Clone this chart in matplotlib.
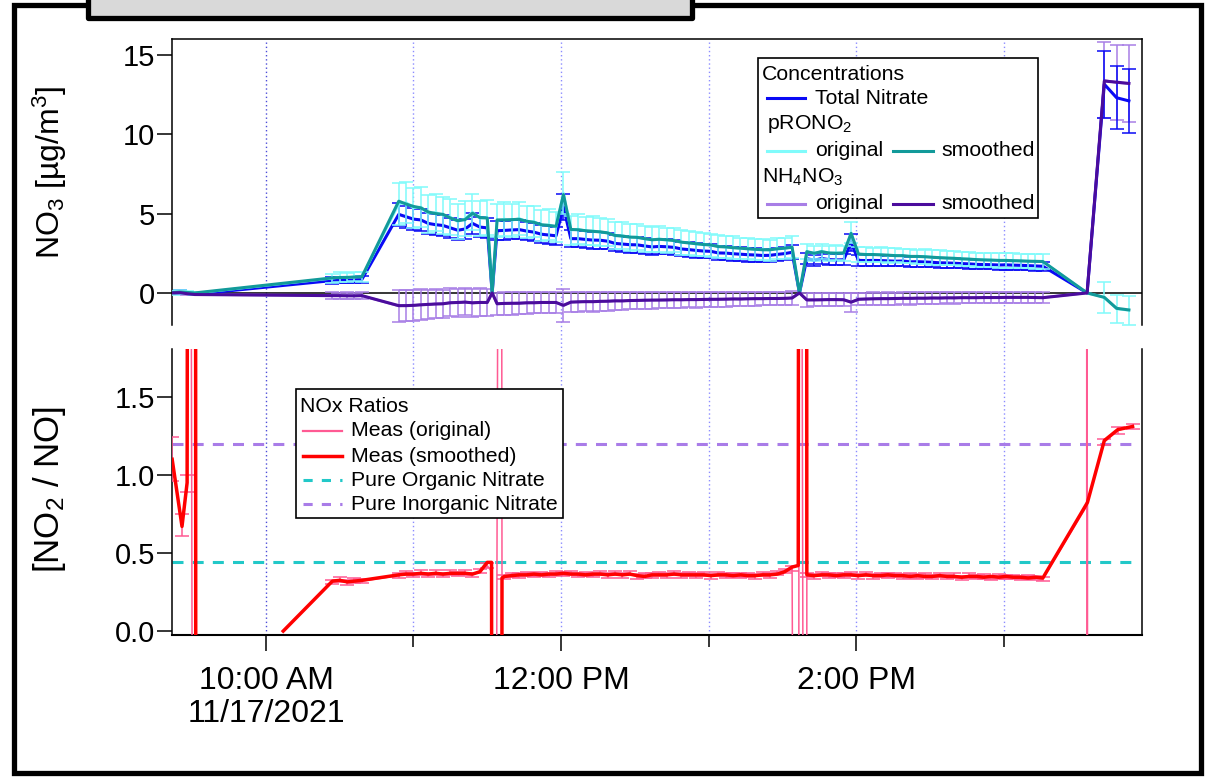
import numpy as np
import pandas as pd
import matplotlib
matplotlib.use("Agg")
import matplotlib.pyplot as plt
import matplotlib.dates as mdates
from matplotlib.lines import Line2D
from matplotlib.patches import Rectangle
from matplotlib.transforms import blended_transform_factory

plt.rcParams["font.family"] = ["Liberation Sans", "DejaVu Sans"]
plt.rcParams["mathtext.fontset"] = "custom"
plt.rcParams["mathtext.rm"] = "Liberation Sans"
plt.rcParams["mathtext.it"] = "Liberation Sans:italic"
plt.rcParams["mathtext.default"] = "regular"

DAY = "2021-11-17 "


def stamps(labels):
    return pd.to_datetime([DAY + s for s in labels]).values


def run(first, last):
    # regular 3-minute averaging periods
    return pd.date_range(DAY + first, DAY + last, freq="3min").values


# ---------------- nitrate concentrations (ug/m3) ----------------
conc_time = pd.DatetimeIndex(np.concatenate([
    stamps(["09:22", "09:25", "09:28", "09:31"]),
    run("10:27", "10:39"),
    run("10:54", "11:30"),
    stamps(["11:32"]),
    run("11:34", "13:34"),
    stamps(["13:37"]),
    run("13:40", "15:16"),
    stamps(["15:34", "15:41", "15:46", "15:51"]),
]))

total_no3 = ([0.03, 0.1, 0.0, -0.08]
             + [0.78, 0.8, 0.8, 0.82, 0.85]
             + [4.95, 4.8, 4.65, 4.6, 4.38, 4.3, 4.25, 4.1, 3.95, 4.03, 4.38, 4.15, 4.1]
             + [0.0]
             + [3.92, 3.94, 3.97, 3.99, 3.9, 3.83, 3.7, 3.65, 3.6, 5.42,
                3.42, 3.42, 3.37, 3.33, 3.32, 3.26, 3.12, 3.08, 3.04, 3.03,
                2.96, 2.9, 2.93, 2.91, 2.87, 2.77, 2.73, 2.68, 2.64, 2.62,
                2.52, 2.51, 2.47, 2.44, 2.41, 2.39, 2.36, 2.37, 2.43, 2.48, 2.56]
             + [0.0]
             + [2.16, 2.06, 2.17, 2.1, 2.08, 2.09, 3.17, 2.05, 2.04, 2.05,
                2.04, 2.02, 2.0, 2.01, 1.96, 1.97, 1.95, 1.93, 1.9, 1.89,
                1.87, 1.85, 1.83, 1.8, 1.79, 1.78, 1.76, 1.77, 1.75, 1.74,
                1.72, 1.7, 1.68]
             + [0.0, 13.15, 12.3, 12.1])

total_err = ([0.08, 0.08, 0.08, 0.08]
             + [0.2, 0.2, 0.2, 0.2, 0.2]
             + [0.72, 0.7, 0.7, 0.68, 0.66, 0.66, 0.65, 0.64, 0.62, 0.63, 0.66, 0.64, 0.63]
             + [0.0]
             + [0.6, 0.6, 0.6, 0.6, 0.59, 0.58, 0.57, 0.56, 0.56, 0.82,
                0.54, 0.54, 0.53, 0.53, 0.52, 0.52, 0.5, 0.5, 0.5, 0.49,
                0.48, 0.48, 0.48, 0.47, 0.47, 0.46, 0.46, 0.45, 0.45, 0.45,
                0.44, 0.44, 0.44, 0.43, 0.43, 0.43, 0.42, 0.42, 0.43, 0.43, 0.44]
             + [0.0]
             + [0.36, 0.35, 0.36, 0.35, 0.35, 0.35, 0.55, 0.34, 0.34, 0.34,
                0.34, 0.33, 0.33, 0.33, 0.33, 0.32, 0.32, 0.32, 0.32, 0.31,
                0.31, 0.31, 0.31, 0.3, 0.3, 0.3, 0.3, 0.3, 0.29, 0.29,
                0.29, 0.29, 0.29]
             + [0.0, 2.1, 2.0, 2.0])

prono2_orig = ([0.0, 0.08, 0.02, -0.02]
               + [0.92, 0.99, 0.96, 1.03, 1.0]
               + [5.6, 5.7, 5.35, 5.42, 5.0, 5.08, 4.9, 4.78, 4.5, 4.68, 5.1, 4.7, 4.76]
               + [0.0]
               + [4.55, 4.66, 4.58, 4.7, 4.48, 4.5, 4.26, 4.3, 4.15, 6.3,
                  3.95, 4.03, 3.9, 3.92, 3.82, 3.8, 3.6, 3.62, 3.5, 3.53,
                  3.4, 3.37, 3.4, 3.32, 3.32, 3.18, 3.17, 3.08, 3.07, 3.0,
                  2.94, 2.88, 2.86, 2.8, 2.8, 2.73, 2.74, 2.7, 2.8, 2.8, 2.9]
               + [0.0]
               + [2.62, 2.47, 2.63, 2.5, 2.53, 2.5, 3.8, 2.43, 2.44, 2.4,
                  2.42, 2.36, 2.37, 2.33, 2.32, 2.28, 2.3, 2.24, 2.23, 2.19,
                  2.19, 2.14, 2.14, 2.09, 2.09, 2.06, 2.06, 2.04, 2.04, 2.01,
                  2.01, 1.98, 1.98]
               + [0.0, -0.28, -1.0, -1.1])

prono2_smooth = ([0.02, 0.06, 0.03, 0.0]
                 + [0.95, 0.97, 0.98, 1.0, 1.02]
                 + [5.78, 5.6, 5.45, 5.36, 5.1, 5.0, 4.95, 4.72, 4.55, 4.62, 5.02, 4.75, 4.72]
                 + [0.0]
                 + [4.6, 4.6, 4.62, 4.64, 4.52, 4.45, 4.3, 4.25, 4.2, 6.2,
                    4.0, 3.98, 3.92, 3.88, 3.85, 3.78, 3.62, 3.58, 3.52, 3.5,
                    3.42, 3.35, 3.38, 3.35, 3.3, 3.2, 3.15, 3.1, 3.05, 3.02,
                    2.92, 2.9, 2.85, 2.82, 2.78, 2.75, 2.72, 2.72, 2.78, 2.82, 2.88]
                 + [0.0]
                 + [2.6, 2.5, 2.6, 2.52, 2.5, 2.52, 3.75, 2.45, 2.42, 2.42,
                    2.4, 2.38, 2.35, 2.35, 2.3, 2.3, 2.28, 2.25, 2.22, 2.2,
                    2.18, 2.15, 2.13, 2.1, 2.08, 2.07, 2.05, 2.05, 2.03, 2.02,
                    2.0, 1.99, 1.98]
                 + [0.0, -0.28, -0.97, -1.07])

prono2_err = ([0.1, 0.1, 0.1, 0.1]
              + [0.3, 0.3, 0.3, 0.3, 0.3]
              + [1.3, 1.28, 1.25, 1.24, 1.2, 1.18, 1.17, 1.14, 1.12, 1.12, 1.16, 1.12, 1.1]
              + [0.0]
              + [1.05, 1.05, 1.04, 1.04, 1.02, 1.0, 0.98, 0.97, 0.96, 1.35,
                 0.92, 0.92, 0.9, 0.9, 0.88, 0.87, 0.85, 0.84, 0.83, 0.82,
                 0.8, 0.79, 0.79, 0.78, 0.77, 0.76, 0.75, 0.74, 0.73, 0.72,
                 0.71, 0.7, 0.7, 0.69, 0.68, 0.67, 0.66, 0.66, 0.67, 0.67, 0.68]
              + [0.0]
              + [0.48, 0.47, 0.48, 0.47, 0.47, 0.47, 0.65, 0.46, 0.46, 0.46,
                 0.46, 0.46, 0.45, 0.45, 0.45, 0.45, 0.45, 0.45, 0.45, 0.45,
                 0.45, 0.45, 0.45, 0.45, 0.45, 0.45, 0.46, 0.46, 0.46, 0.46,
                 0.47, 0.47, 0.48]
              + [0.0, 1.0, 0.9, 0.9])

nh4no3_orig = ([0.0, 0.03, -0.06, -0.1]
               + [-0.16, -0.18, -0.17, -0.19, -0.17]
               + [-0.82, -0.78, -0.8, -0.73, -0.74, -0.68, -0.7, -0.6, -0.62, -0.56, -0.64, -0.58, -0.61]
               + [0.0]
               + [-0.7, -0.65, -0.66, -0.63, -0.63, -0.6, -0.61, -0.59, -0.61, -0.8,
                  -0.57, -0.57, -0.54, -0.56, -0.52, -0.53, -0.49, -0.51, -0.47, -0.48,
                  -0.45, -0.46, -0.44, -0.45, -0.42, -0.44, -0.41, -0.43, -0.4, -0.41,
                  -0.39, -0.4, -0.37, -0.39, -0.36, -0.37, -0.35, -0.36, -0.34, -0.35, -0.31]
               + [0.0]
               + [-0.45, -0.43, -0.44, -0.41, -0.43, -0.42, -0.6, -0.39, -0.39, -0.36,
                  -0.37, -0.35, -0.36, -0.33, -0.35, -0.32, -0.34, -0.31, -0.33, -0.3,
                  -0.32, -0.29, -0.31, -0.29, -0.3, -0.28, -0.3, -0.27, -0.29, -0.28,
                  -0.27, -0.3, -0.29]
               + [0.0, 13.4, 13.25, 13.2])

nh4no3_smooth = ([0.0, 0.02, -0.05, -0.1]
                 + [-0.17, -0.17, -0.18, -0.18, -0.17]
                 + [-0.8, -0.8, -0.78, -0.75, -0.72, -0.7, -0.68, -0.62, -0.6, -0.58, -0.62, -0.6, -0.6]
                 + [0.0]
                 + [-0.68, -0.66, -0.65, -0.65, -0.62, -0.62, -0.6, -0.6, -0.6, -0.78,
                    -0.58, -0.56, -0.55, -0.55, -0.53, -0.52, -0.5, -0.5, -0.48, -0.47,
                    -0.46, -0.45, -0.45, -0.44, -0.43, -0.43, -0.42, -0.42, -0.41, -0.4,
                    -0.4, -0.39, -0.38, -0.38, -0.37, -0.36, -0.36, -0.35, -0.35, -0.34, -0.32]
                 + [0.0]
                 + [-0.44, -0.44, -0.43, -0.42, -0.42, -0.43, -0.58, -0.4, -0.38, -0.37,
                    -0.36, -0.36, -0.35, -0.34, -0.34, -0.33, -0.33, -0.32, -0.32, -0.31,
                    -0.31, -0.3, -0.3, -0.3, -0.29, -0.29, -0.29, -0.28, -0.28, -0.28,
                    -0.28, -0.29, -0.3]
                 + [0.0, 13.35, 13.28, 13.2])

nh4no3_err = ([0.05, 0.05, 0.05, 0.05]
              + [0.2, 0.2, 0.2, 0.2, 0.2]
              + [1.0, 0.98, 0.97, 0.95, 0.93, 0.92, 0.9, 0.88, 0.87, 0.86, 0.88, 0.86, 0.85]
              + [0.0]
              + [0.72, 0.71, 0.7, 0.7, 0.68, 0.68, 0.66, 0.66, 0.65, 1.05,
                 0.63, 0.62, 0.61, 0.61, 0.6, 0.59, 0.58, 0.57, 0.56, 0.55,
                 0.54, 0.53, 0.53, 0.52, 0.51, 0.5, 0.5, 0.49, 0.48, 0.48,
                 0.47, 0.46, 0.46, 0.45, 0.45, 0.44, 0.44, 0.43, 0.43, 0.42, 0.42]
              + [0.0]
              + [0.42, 0.42, 0.41, 0.41, 0.41, 0.41, 0.62, 0.4, 0.4, 0.39,
                 0.39, 0.39, 0.38, 0.38, 0.38, 0.37, 0.37, 0.37, 0.36, 0.36,
                 0.36, 0.36, 0.35, 0.35, 0.35, 0.35, 0.35, 0.34, 0.34, 0.34,
                 0.34, 0.34, 0.35]
              + [0.0, 2.4, 2.35, 2.4])

# ---------------- NO2+/NO+ ratio ----------------
ratio_time = pd.DatetimeIndex(np.concatenate([
    stamps(["09:21:50", "09:25:50", "09:27:55", "09:28:35", "09:31:15", "09:31:35", "09:50:00"]),
    stamps(["10:07"]),
    run("10:27", "10:39"),
    run("10:54", "11:30"),
    stamps(["11:31:45", "11:32:15", "11:35:30", "11:36:00"]),
    run("11:37", "13:34"),
    stamps(["13:36:30", "13:37:00", "13:39:45"]),
    run("13:40", "15:16"),
    stamps(["15:33:50", "15:33:55", "15:34:05", "15:34:10",
            "15:41:00", "15:46:30", "15:52:30"]),
]))

nan = np.nan
ratio_orig = ([1.10, 0.68, 0.945, 9.0, -9.0, nan, nan]
              + [0.0]
              + [0.315, 0.33, 0.31, 0.325, 0.32]
              + [0.355, 0.37, 0.36, 0.375, 0.36, 0.375, 0.36, 0.375, 0.365, 0.375, 0.36, 0.385, 0.42]
              + [0.38, -9.0, 9.0, 0.34]
              + [0.345, 0.36, 0.355, 0.365, 0.36, 0.365, 0.36, 0.37, 0.365, 0.37,
                 0.36, 0.365, 0.36, 0.37, 0.355, 0.37, 0.355, 0.37, 0.35, 0.355,
                 0.355, 0.365, 0.355, 0.37, 0.355, 0.365, 0.355, 0.365, 0.35, 0.365,
                 0.355, 0.36, 0.355, 0.36, 0.35, 0.365, 0.355, 0.37, 0.385, 0.40]
              + [-9.0, 9.0, -9.0]
              + [0.36, 0.35, 0.365, 0.355, 0.36, 0.355, 0.365, 0.35, 0.365, 0.35,
                 0.36, 0.355, 0.36, 0.35, 0.355, 0.35, 0.355, 0.345, 0.36, 0.345,
                 0.355, 0.34, 0.355, 0.345, 0.35, 0.34, 0.35, 0.345, 0.345, 0.34,
                 0.345, 0.34, 0.335]
              + [0.8, 9.0, -9.0, 0.83, 1.21, 1.285, 1.31])

ratio_smooth = ([1.10, 0.67, 0.95, 9.0, 9.0, -9.0, nan]
                + [0.0]
                + [0.32, 0.325, 0.315, 0.32, 0.325]
                + [0.36, 0.365, 0.365, 0.37, 0.365, 0.37, 0.365, 0.37, 0.37, 0.37, 0.365, 0.38, 0.44]
                + [0.44, -9.0, -9.0, 0.34]
                + [0.35, 0.355, 0.36, 0.36, 0.365, 0.36, 0.365, 0.365, 0.37, 0.365,
                   0.365, 0.36, 0.365, 0.365, 0.36, 0.365, 0.36, 0.365, 0.355, 0.35,
                   0.36, 0.36, 0.36, 0.365, 0.36, 0.36, 0.36, 0.36, 0.355, 0.36,
                   0.36, 0.355, 0.36, 0.355, 0.355, 0.36, 0.36, 0.365, 0.38, 0.41]
                + [0.42, 9.0, 9.0]
                + [0.36, 0.355, 0.36, 0.36, 0.355, 0.36, 0.36, 0.355, 0.36, 0.355,
                   0.355, 0.36, 0.355, 0.355, 0.35, 0.355, 0.35, 0.35, 0.355, 0.35,
                   0.35, 0.345, 0.35, 0.35, 0.345, 0.35, 0.345, 0.35, 0.345, 0.345,
                   0.34, 0.345, 0.34]
                + [0.815, 0.818, 0.822, 0.825, 1.22, 1.29, 1.31])

ratio_err = ([0.14, 0.07, 0.055, 0.0, 0.0, 0.0, 0.0]
             + [0.0]
             + [0.014] * 5
             + [0.014] * 13
             + [0.0, 0.0, 0.0, 0.0]
             + [0.014] * 40
             + [0.0, 0.0, 0.0]
             + [0.014] * 33
             + [0.0, 0.0, 0.0, 0.0, 0.02, 0.02, 0.015])

PURE_ORGANIC = 0.44
PURE_INORGANIC = 1.2

# colours
C_TOTAL = "#0a0af5"
C_PR_ORIG = "#80fbfb"
C_PR = "#129a9a"
C_NH4_ORIG = "#a87ee6"
C_NH4 = "#4b0c9c"
C_R_ORIG = "#ff5a93"
C_R = "#ff0000"
C_ORG = "#22c8c8"
C_INORG = "#a97ce8"

W, H = 1208, 777


def fx(x):
    return x / W


def fy(y):
    return 1 - y / H


def err_bars(ax, t, y, e, color, z):
    y = np.asarray(y, float)
    e = np.asarray(e, float)
    keep = e > 0
    ax.errorbar(np.asarray(t)[keep], y[keep], yerr=e[keep], fmt="none",
                ecolor=color, elinewidth=1.1, capsize=4.7, capthick=1.1, zorder=z)


fig = plt.figure(figsize=(W / 100, H / 100), dpi=100)
ax1 = fig.add_axes([fx(172), fy(325), fx(1142) - fx(172), fy(39) - fy(325)])
ax2 = fig.add_axes([fx(172), fy(635), fx(1142) - fx(172), fy(349) - fy(635)], sharex=ax1)
for ax in (ax1, ax2):
    ax.set_facecolor("none")

# --- concentrations ---
t = conc_time
ax1.axhline(0, color="black", lw=1.1, zorder=1)
err_bars(ax1, t, nh4no3_orig, nh4no3_err, C_NH4_ORIG, 2)
ax1.plot(t, nh4no3_orig, color=C_NH4_ORIG, lw=1.8, zorder=2.2)
err_bars(ax1, t, total_no3, total_err, C_TOTAL, 3)
ax1.plot(t, total_no3, color=C_TOTAL, lw=2.2, zorder=3.1)
err_bars(ax1, t, prono2_orig, prono2_err, C_PR_ORIG, 3.5)
ax1.plot(t, prono2_orig, color=C_PR_ORIG, lw=1.8, zorder=3.6)
ax1.plot(t, prono2_smooth, color=C_PR, lw=2.2, zorder=4)
ax1.plot(t, nh4no3_smooth, color=C_NH4, lw=2.2, zorder=4.5)

ax1.set_ylim(-2.02, 16.0)
ax1.set_yticks([0, 5, 10, 15])
ax1.set_yticklabels(["0", "5", "10", "15"])
ax1.spines["bottom"].set_visible(False)
ax1.tick_params(axis="x", which="both", bottom=False, labelbottom=False)

# --- ratios ---
rt = ratio_time
ax2.plot(rt, np.full(len(rt), PURE_ORGANIC), color=C_ORG, lw=2.2,
         dashes=(3.6, 3.0), zorder=2)
ax2.plot(rt, np.full(len(rt), PURE_INORGANIC), color=C_INORG, lw=2.2,
         dashes=(3.6, 3.0), zorder=2)
err_bars(ax2, rt, ratio_orig, ratio_err, C_R_ORIG, 3)
ax2.plot(rt, ratio_orig, color=C_R_ORIG, lw=1.1, zorder=3.1)
ax2.plot(rt, ratio_smooth, color=C_R, lw=2.5, zorder=4)

ax2.set_ylim(-0.025, 1.806)
ax2.set_yticks([0.0, 0.5, 1.0, 1.5])
ax2.set_yticklabels(["0.0", "0.5", "1.0", "1.5"])
ax2.spines["top"].set_visible(False)

x0 = pd.Timestamp(DAY + "09:21:46")
x1 = pd.Timestamp(DAY + "15:56:20")
ax2.set_xlim(x0, x1)
hours = [pd.Timestamp(DAY + f"{h}:00") for h in range(10, 16)]
ax2.set_xticks(hours[0::2])
ax2.set_xticklabels(["10:00 AM\n11/17/2021", "12:00 PM", "2:00 PM"])
ax2.set_xticks(hours[1::2], minor=True)
ax2.tick_params(axis="x", which="major", length=11.5, width=1.1, pad=11,
                labelsize=23, direction="out")
ax2.tick_params(axis="x", which="minor", length=8.5, width=1.1, direction="out")
for lbl in ax2.get_xticklabels():
    lbl.set_linespacing(1.1)

for ax in (ax1, ax2):
    ax.tick_params(axis="y", length=10.8, width=1.1, pad=1.5, labelsize=21,
                   direction="out")
    for s in ax.spines.values():
        s.set_linewidth(1.1)
ax2.spines["bottom"].set_linewidth(1.5)

# hourly grid running through both panels
grid_tf = blended_transform_factory(ax2.transData, fig.transFigure)
for i, h in enumerate(hours):
    xn = mdates.date2num(h)
    fig.add_artist(Line2D([xn, xn], [fy(42), fy(633)], transform=grid_tf,
                          color="#4d4dd8" if i == 0 else "#8c8cff",
                          lw=1.0, ls=(0, (1, 2)), zorder=-1))

fig.text(fx(50), fy(172), r"NO$_3$ [µg/m$^3$]", rotation=90, ha="center",
         va="center", fontsize=23)
fig.text(fx(50), fy(490), r"[NO$_2$ / NO]", rotation=90, ha="center",
         va="center", fontsize=25)


# --- legends ---
LEG_FS = 15.3


def leg_line(x_a, x_b, y, color, lw, dashes=None):
    ln = Line2D([fx(x_a), fx(x_b)], [fy(y), fy(y)], transform=fig.transFigure,
                color=color, lw=lw, zorder=6)
    if dashes:
        ln.set_dashes(dashes)
    fig.add_artist(ln)


def leg_text(x, y, s):
    fig.text(fx(x), fy(y), s, ha="left", va="center", fontsize=LEG_FS, zorder=6)


fig.add_artist(Rectangle((fx(758), fy(218)), fx(1038) - fx(758), fy(58) - fy(218),
                         transform=fig.transFigure, facecolor="white",
                         edgecolor="black", lw=1.2, zorder=5))
leg_text(762, 74, "Concentrations")
leg_line(767, 805, 98, C_TOTAL, 2.2)
leg_text(815, 98, "Total Nitrate")
leg_text(767, 124, r"pRONO$_2$")
leg_line(767, 805, 151, C_PR_ORIG, 2.2)
leg_text(815, 151, "original")
leg_line(893, 933, 151, C_PR, 2.2)
leg_text(941, 151, "smoothed")
leg_text(762, 177, r"NH$_4$NO$_3$")
leg_line(767, 805, 204, C_NH4_ORIG, 2.2)
leg_text(815, 204, "original")
leg_line(893, 933, 204, C_NH4, 2.2)
leg_text(941, 204, "smoothed")

fig.add_artist(Rectangle((fx(296), fy(518)), fx(563) - fx(296), fy(389) - fy(518),
                         transform=fig.transFigure, facecolor="white",
                         edgecolor="black", lw=1.2, zorder=5))
leg_text(300, 407, "NOx Ratios")
leg_line(303, 342, 431, C_R_ORIG, 1.6)
leg_text(351, 431, "Meas (original)")
leg_line(303, 342, 456, C_R, 2.5)
leg_text(351, 456, "Meas (smoothed)")
leg_line(303, 342, 480, C_ORG, 2.2, (3.0, 3.0))
leg_text(351, 480, "Pure Organic Nitrate")
leg_line(303, 342, 504, C_INORG, 2.2, (3.0, 3.0))
leg_text(351, 504, "Pure Inorganic Nitrate")

# --- window frame and tab ---
fig.add_artist(Rectangle((fx(14), fy(773)), fx(1201) - fx(14), fy(5) - fy(773),
                         transform=fig.transFigure, facecolor="none",
                         edgecolor="black", lw=3.8, zorder=7))
fig.add_artist(Rectangle((fx(88), fy(18)), fx(692) - fx(88), fy(-20) - fy(18),
                         transform=fig.transFigure, facecolor="#d9d9d9",
                         edgecolor="black", lw=3.8, zorder=8, joinstyle="round"))

fig.savefig("out.png", dpi=100)
